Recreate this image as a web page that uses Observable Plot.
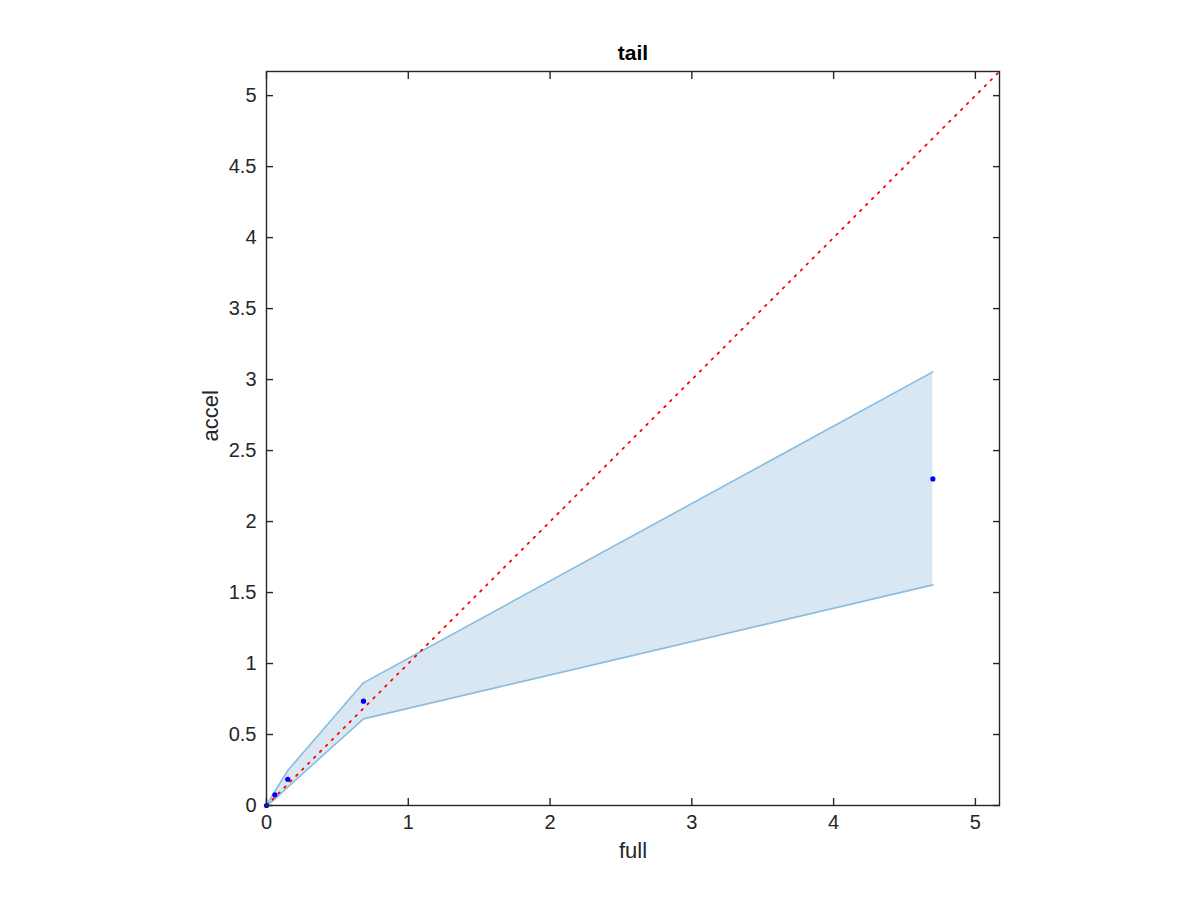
<!DOCTYPE html>
<html>
<head>
<meta charset="utf-8">
<script src="https://cdn.jsdelivr.net/npm/d3@7"></script>
<script src="https://cdn.jsdelivr.net/npm/@observablehq/plot@0.6"></script>
<style>
  html, body { margin: 0; padding: 0; background: white; }
</style>
</head>
<body>
<div id="chart"></div>
<script>
const full  = [0, 0.059, 0.150, 0.684, 4.700];
const accel = [0, 0.075, 0.185, 0.735, 2.300];
const upper = [0, 0.100, 0.246, 0.864, 3.054];
const lower = [0, 0.045, 0.130, 0.610, 1.554];
const xTicks = [0, 1, 2, 3, 4, 5];
const yTicks = [0, 0.5, 1, 1.5, 2, 2.5, 3, 3.5, 4, 4.5, 5];
const axisMax = 5.17;
const diag = [0, axisMax];

const data = full.map((f, i) => ({full: f, accel: accel[i], upper: upper[i], lower: lower[i]}));

const ink = "#262626";
const font = "Helvetica, 'Liberation Sans', Arial, sans-serif";

const chart = Plot.plot({
  width: 1200,
  height: 900,
  marginLeft: 266,
  marginRight: 201,
  marginTop: 71,
  marginBottom: 95,
  x: {domain: [0, axisMax]},
  y: {domain: [0, axisMax]},
  style: {fontFamily: font, fontSize: "20px", color: ink, background: "white"},
  marks: [
    Plot.areaY(data, {x: "full", y1: "lower", y2: "upper", fill: "#d9e7f3"}),
    Plot.lineY(data, {x: "full", y: "upper", stroke: "#88bde0", strokeWidth: 1.6}),
    Plot.lineY(data, {x: "full", y: "lower", stroke: "#88bde0", strokeWidth: 1.6}),
    Plot.line(diag, {x: d => d, y: d => d, stroke: "red", strokeWidth: 1.8, strokeDasharray: "1.8,6.6"}),
    Plot.dot(data, {x: "full", y: "accel", r: 2.6, fill: "blue", stroke: "none"}),
    Plot.frame({stroke: ink, strokeWidth: 1.4}),
    // inward ticks on all four sides
    Plot.axisX(xTicks, {anchor: "bottom", tickSize: -7, tickFormat: () => "", label: null, stroke: ink, strokeWidth: 1.4}),
    Plot.axisX(xTicks, {anchor: "top", tickSize: -7, tickFormat: () => "", label: null, stroke: ink, strokeWidth: 1.4}),
    Plot.axisY(yTicks, {anchor: "left", tickSize: -7, tickFormat: () => "", label: null, stroke: ink, strokeWidth: 1.4}),
    Plot.axisY(yTicks, {anchor: "right", tickSize: -7, tickFormat: () => "", label: null, stroke: ink, strokeWidth: 1.4}),
    // tick labels
    Plot.axisX(xTicks, {anchor: "bottom", tickSize: 0, tickPadding: 9, label: null, fill: ink, fontSize: 20, tickFormat: d => String(d)}),
    Plot.axisY(yTicks, {anchor: "left", tickSize: 0, tickPadding: 10, label: null, fill: ink, fontSize: 20, tickFormat: d => String(d)}),
    // title and axis labels
    Plot.text(["tail"], {frameAnchor: "top", lineAnchor: "bottom", dy: -12, fontWeight: "bold", fontSize: 21, fill: "black"}),
    Plot.text(["full"], {frameAnchor: "bottom", lineAnchor: "bottom", dy: 52, fontSize: 22, fill: ink}),
    Plot.text(["accel"], {frameAnchor: "left", lineAnchor: "bottom", rotate: -90, dx: -49, dy: 3, fontSize: 22, fill: ink})
  ]
});

document.getElementById("chart").appendChild(chart);
</script>
</body>
</html>
